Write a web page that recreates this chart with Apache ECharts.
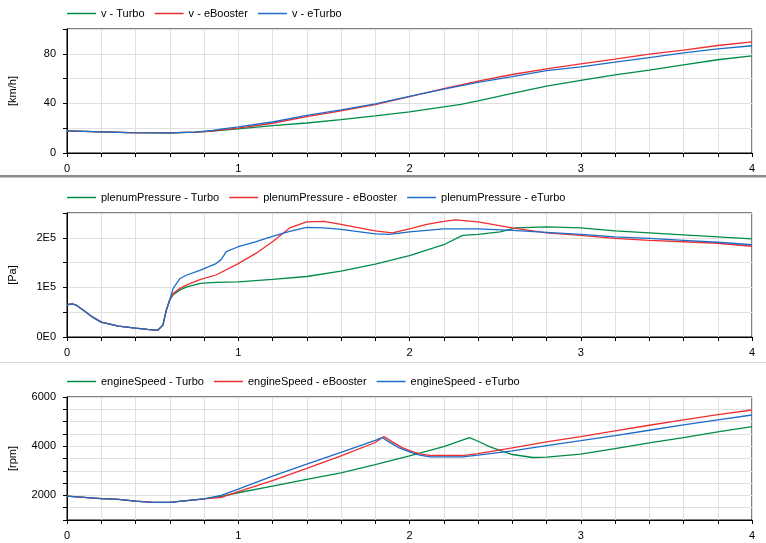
<!DOCTYPE html>
<html><head><meta charset="utf-8">
<script src="https://cdn.jsdelivr.net/npm/echarts@6/dist/echarts.min.js"></script>
<style>html,body{margin:0;padding:0;background:#fff}#c{width:766px;height:543px}</style>
</head><body><div id="c"></div>
<script>
// ---- Data (time in s) ----
const earlyV = [[0,17.8],[0.15,17.3],[0.36,16.4],[0.6,16.2],[0.75,16.8]];
const vTurbo = [[0.85,17.6],[0.9,18.3],[1.0,19.5],[1.2,22],[1.4,24.2],[1.6,26.9],[1.8,29.9],[2.0,33.1],[2.2,37.2],[2.3,39.3],[2.4,42],[2.6,48],[2.8,53.9],[3.0,58.5],[3.2,63],[3.4,66.8],[3.6,71.1],[3.8,75.2],[4.0,78.4]];
const vEBooster = [[0.85,17.6],[0.9,18.6],[1.0,20],[1.2,24],[1.4,29.3],[1.6,33.9],[1.8,39],[2.0,45.5],[2.2,52],[2.4,58],[2.6,63.3],[2.8,67.9],[3.0,71.9],[3.2,75.7],[3.4,79.7],[3.6,83],[3.8,86.7],[4.0,89.7]];
const vETurbo = [[0.85,18.2],[0.9,19.2],[1.0,21],[1.2,25],[1.4,30.4],[1.6,34.7],[1.8,39.6],[2.0,45.7],[2.2,51.5],[2.4,57],[2.6,61.6],[2.8,66.5],[3.0,69.5],[3.2,73.3],[3.4,77],[3.6,80.8],[3.8,84],[4.0,86.5]];

const earlyP = [[0,65000],[0.03,67000],[0.05,65000],[0.1,53000],[0.15,40000],[0.2,30000],[0.3,22000],[0.4,18000],[0.47,15500],[0.53,13500],[0.56,24000],[0.58,54000],[0.6,75000]];
const pTurbo = [[0.62,85000],[0.66,95000],[0.7,101000],[0.78,108000],[0.87,110000],[1.0,111000],[1.2,116000],[1.4,122000],[1.6,133000],[1.8,147000],[2.0,164000],[2.2,186000],[2.31,205000],[2.4,207000],[2.53,212000],[2.62,220000],[2.8,222000],[3.0,220000],[3.2,214000],[3.4,210000],[3.6,206000],[3.8,202000],[4.0,198000]];
const pEBooster = [[0.62,88000],[0.66,98000],[0.7,105000],[0.78,116000],[0.87,125000],[1.0,148000],[1.1,168000],[1.2,192000],[1.3,220000],[1.4,232000],[1.5,233000],[1.6,227000],[1.8,214000],[1.9,210000],[2.0,218000],[2.1,227000],[2.2,233000],[2.27,236000],[2.4,232000],[2.6,220000],[2.8,210000],[3.0,205000],[3.2,199000],[3.4,195000],[3.6,192000],[3.8,189000],[4.0,183000]];
const pETurbo = [[0.62,98000],[0.66,118000],[0.7,125000],[0.78,135000],[0.87,148000],[0.9,156000],[0.93,172000],[1.0,182000],[1.1,192000],[1.2,203000],[1.3,213000],[1.4,221000],[1.5,220000],[1.6,217000],[1.8,208000],[1.88,207000],[2.0,212000],[2.2,218000],[2.4,218000],[2.6,215000],[2.8,211000],[3.0,207000],[3.2,202000],[3.4,199000],[3.6,195000],[3.8,191000],[4.0,186000]];

const earlyN = [[0,1973],[0.1,1919],[0.2,1865],[0.3,1838],[0.4,1770],[0.5,1716],[0.6,1716],[0.7,1784],[0.8,1860]];
const nTurbo = [[0.9,1960],[1.0,2108],[1.2,2378],[1.4,2648],[1.6,2920],[1.8,3250],[2.0,3608],[2.2,3986],[2.35,4351],[2.4,4202],[2.47,3972],[2.6,3662],[2.72,3540],[2.8,3554],[3.0,3675],[3.2,3905],[3.4,4135],[3.6,4351],[3.8,4580],[4.0,4797]];
const nEBooster = [[0.9,1919],[1.0,2149],[1.2,2600],[1.4,3100],[1.6,3608],[1.8,4150],[1.85,4391],[1.9,4175],[1.96,3932],[2.02,3770],[2.08,3662],[2.13,3621],[2.31,3621],[2.4,3702],[2.6,3932],[2.8,4175],[3.0,4391],[3.2,4621],[3.4,4851],[3.6,5067],[3.8,5283],[4.0,5472]];
const nETurbo = [[0.9,2000],[1.0,2257],[1.2,2780],[1.4,3270],[1.6,3750],[1.8,4240],[1.84,4351],[1.88,4175],[1.94,3932],[2.0,3770],[2.06,3635],[2.12,3567],[2.31,3567],[2.4,3635],[2.6,3810],[2.8,4027],[3.0,4229],[3.2,4432],[3.4,4648],[3.6,4864],[3.8,5067],[4.0,5269]];

const variants = ['Turbo','eBooster','eTurbo'];
const colors = ['rgb(0,140,72)','rgb(238,46,47)','rgb(28,108,200)'];
const panels = [
  {name:'v', unit:'[km/h]', early:earlyV, data:[vTurbo,vEBooster,vETurbo], min:0, max:100, interval:20, labelEvery:40, fmt:v=>String(v)},
  {name:'plenumPressure', unit:'[Pa]', early:earlyP, data:[pTurbo,pEBooster,pETurbo], min:0, max:250000, interval:50000, labelEvery:100000, fmt:v=>(v/100000)+(v===0?'E0':'E5')},
  {name:'engineSpeed', unit:'[rpm]', early:earlyN, data:[nTurbo,nEBooster,nETurbo], min:1000, max:6000, interval:500, labelEvery:2000, fmt:v=>String(v)}
];
const tops = [29, 213, 397];
const heights = [124, 124, 123];
const FONT = 'Liberation Sans, Arial, sans-serif';

const grid=[], xAxis=[], yAxis=[], series=[], legend=[];
panels.forEach((p,i)=>{
  grid.push({left:67, right:14, top:tops[i], height:heights[i], show:true, borderColor:'#000', borderWidth:1,
    containLabel:false, outerBoundsMode:'none'});
  xAxis.push({type:'value', gridIndex:i, min:0, max:4, interval:0.2,
    axisLine:{lineStyle:{color:'#000',width:1}},
    axisTick:{show:true,length:4,lineStyle:{color:'#000'}},
    splitLine:{show:true,lineStyle:{color:'#e0e0e0',width:1}},
    axisLabel:{margin:10,fontSize:11,fontFamily:FONT,color:'#000',
      formatter:v=>Math.abs(v-Math.round(v))<1e-6?String(Math.round(v)):''}});
  yAxis.push({type:'value', gridIndex:i, min:p.min, max:p.max, interval:p.interval,
    name:p.unit, nameLocation:'middle', nameGap:49,
    nameTextStyle:{fontSize:11,fontFamily:FONT,color:'#000'},
    axisLine:{show:true,lineStyle:{color:'#000',width:1}},
    axisTick:{show:true,length:4,lineStyle:{color:'#000'}},
    splitLine:{show:true,lineStyle:{color:'#e0e0e0',width:1}},
    axisLabel:{margin:11,fontSize:11,fontFamily:FONT,color:'#000',
      formatter:v=>(Math.abs(v%p.labelEvery)<1e-6)?p.fmt(v):''}});
  const names = variants.map(vn=>p.name+' - '+vn);
  legend.push({data:names, left:62, top:tops[i]-26, icon:'rect', itemWidth:29, itemHeight:1.5, itemGap:10,
    textStyle:{fontSize:11,fontFamily:FONT,color:'#000'}, selectedMode:false});
  p.data.forEach((d,k)=>{
    series.push({name:names[k], type:'line', xAxisIndex:i, yAxisIndex:i, showSymbol:false, symbol:'none',
      data:p.early.concat(d), lineStyle:{color:colors[k],width:1.3}, itemStyle:{color:colors[k]}});
  });
});

const chart = echarts.init(document.getElementById('c'), null, {renderer:'canvas'});
chart.setOption({
  animation:false, backgroundColor:'#fff',
  grid, xAxis, yAxis, series, legend,
  graphic:[
    {type:'rect', shape:{x:0,y:175,width:766,height:2.5}, style:{fill:'#8c8c8c'}, silent:true},
    {type:'rect', shape:{x:0,y:362,width:766,height:1}, style:{fill:'#d8d8d8'}, silent:true}
  ]
});
</script></body></html>
